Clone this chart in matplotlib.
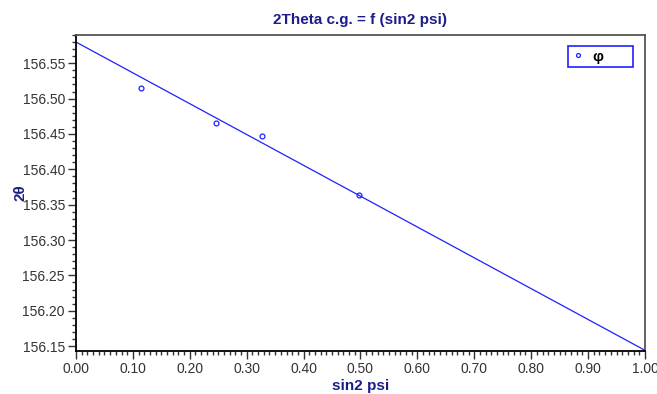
import matplotlib
matplotlib.use('Agg')
import matplotlib.pyplot as plt
from matplotlib.ticker import MultipleLocator, FormatStrFormatter

plt.rcParams['font.family'] = ['Liberation Sans', 'DejaVu Sans']

# measured points
sin2psi = [0.114, 0.246, 0.327, 0.497]
two_theta = [156.5145, 156.466, 156.4475, 156.363]

# regression line end points
fit_x = [0.0, 1.0]
fit_y = [156.580, 156.144]

navy = '#1c1c8a'
blue = '#2020ff'

fig = plt.figure(figsize=(6.57, 3.94), dpi=100)
ax = fig.add_axes([0.1157, 0.1091, 0.866, 0.8021])

ax.plot(fit_x, fit_y, color=blue, lw=0.9)
ax.plot(sin2psi, two_theta, 'o', ms=3.5, mfc='none', mec=blue, mew=0.9, label='φ')

ax.set_xlim(0, 1)
ax.set_ylim(156.143, 156.59)
ax.xaxis.set_major_locator(MultipleLocator(0.1))
ax.xaxis.set_minor_locator(MultipleLocator(0.01))
ax.yaxis.set_major_locator(MultipleLocator(0.05))
ax.yaxis.set_minor_locator(MultipleLocator(0.01))
ax.xaxis.set_major_formatter(FormatStrFormatter('%.2f'))
ax.yaxis.set_major_formatter(FormatStrFormatter('%.2f'))
ax.tick_params(which='major', length=6, width=1, labelsize=10, colors='#333333', pad=2)
ax.tick_params(which='minor', length=3, width=1, colors='#333333')

for s in ['left', 'bottom']:
    ax.spines[s].set_linewidth(1.3)
    ax.spines[s].set_color('black')
for s in ['top', 'right']:
    ax.spines[s].set_linewidth(1.3)
    ax.spines[s].set_color('#555555')

ax.set_title('2Theta c.g. = f (sin2 psi)', color=navy, fontweight='bold', fontsize=11, pad=8)
ax.set_xlabel('sin2 psi', color=navy, fontweight='bold', fontsize=11, labelpad=2)
ax.set_ylabel('2θ', color=navy, fontweight='bold', fontsize=11, labelpad=-4)

leg = ax.legend(loc='upper right', bbox_to_anchor=(0.993, 0.99), fancybox=False,
                edgecolor=blue, framealpha=1, fontsize=11, handlelength=0.8,
                handletextpad=0.6, borderpad=0.25, markerscale=0.8)
leg.get_frame().set_linewidth(1.2)
for t in leg.get_texts():
    t.set_color('black')
    t.set_fontweight('bold')
    t.set_text('φ      ')

fig.savefig('out.png', dpi=100)
